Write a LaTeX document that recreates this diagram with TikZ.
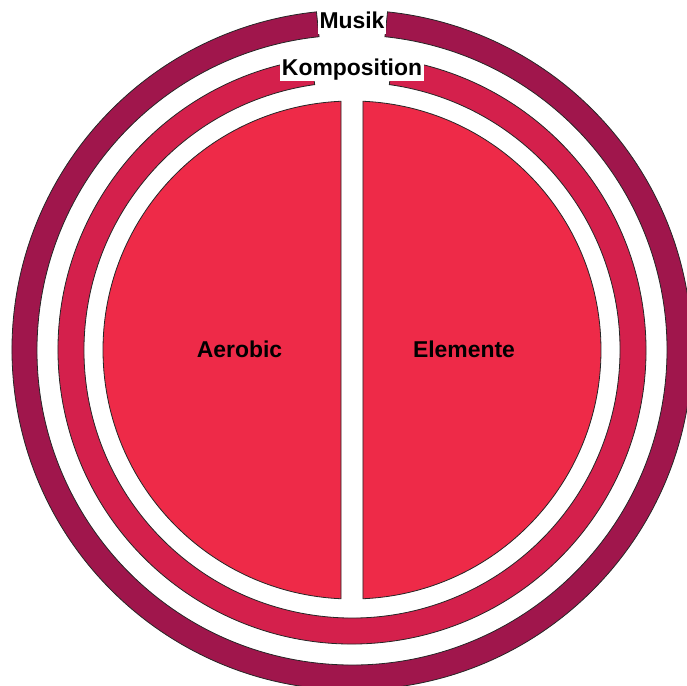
\documentclass[tikz,border=0pt]{standalone}
\usepackage{fontspec}
\setmainfont{Liberation Sans}
\usepackage{tikz}

\begin{document}
\begin{tikzpicture}[x=1bp,y=1bp]
  \definecolor{ra}{RGB}{160,22,76}
  \definecolor{rb}{RGB}{212,32,76}
  \definecolor{rc}{RGB}{238,42,72}
  \tikzset{
    edge/.style={draw=black!85,line width=0.8bp},
    lab/.style={font=\fontsize{23}{27}\selectfont\bfseries,text=black},
    ringlab/.style={lab,fill=white,inner xsep=1.5bp,inner ysep=0.5bp,
      text height=17bp,text depth=5bp}
  }
  \newcommand{\ringpart}[4]{% outer r, inner r, half gap (deg), colour
    \path[edge,fill=#4] (90+#3:#1) arc[start angle=90+#3,end angle=450-#3,radius=#1]
      -- (450-#3:#2) arc[start angle=450-#3,end angle=90+#3,radius=#2] -- cycle;}
  \useasboundingbox (-352,-336) rectangle (335,350);

  % the two rings
  \ringpart{340}{315}{6}{ra}
  \ringpart{294}{268}{8}{rb}

  % the two halves of the inner disc
  \path[edge,fill=rc] (92.53:249) arc[start angle=92.53,end angle=267.47,radius=249] -- cycle;
  \path[edge,fill=rc] (-87.47:249) arc[start angle=-87.47,end angle=87.47,radius=249] -- cycle;

  % labels
  \node[ringlab] (musik) at (0,327) {Musik};
  \node[ringlab] (komposition) at (0,280.5) {Komposition};
  \node[lab] (aerobic) at (-112.5,1) {Aerobic};
  \node[lab] (elemente) at (112,1) {Elemente};
\end{tikzpicture}
\end{document}
